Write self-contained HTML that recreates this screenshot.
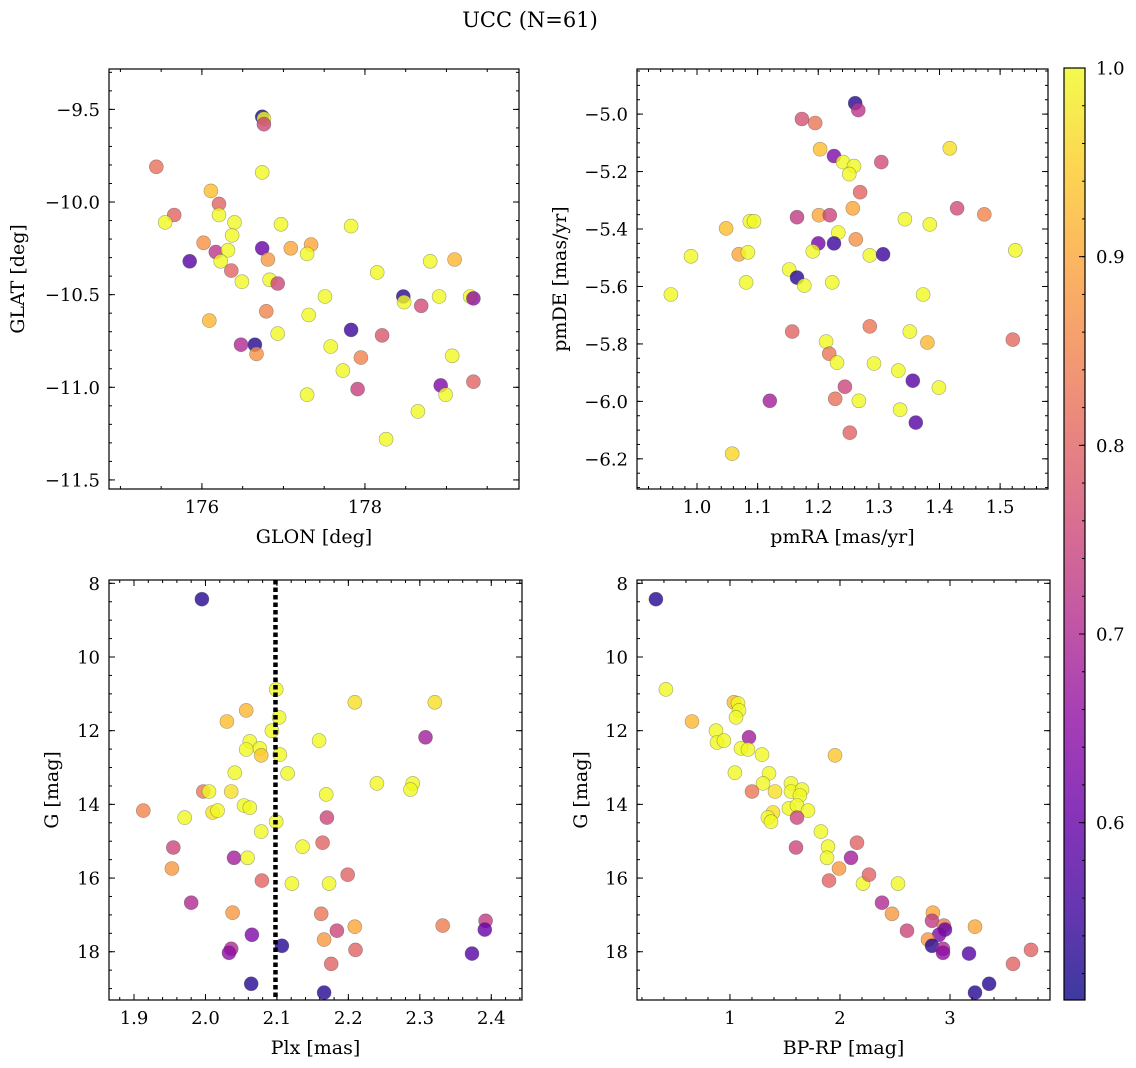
<!DOCTYPE html>
<html><head><meta charset="utf-8">
<style>
html,body{margin:0;padding:0;background:#fff;}
svg{display:block;font-family:"DejaVu Serif","Liberation Serif",serif;}
</style></head>
<body>
<svg id="fig" width="1136" height="1068" viewBox="0 0 1136 1068" xmlns="http://www.w3.org/2000/svg">
<text x="530" y="27" font-size="21" text-anchor="middle">UCC (N=61)</text>
</svg>
<script>
// ---------- Panel 1: GLON vs GLAT ----------
const p1Glon = [176.74,176.76,176.76,175.44,176.74,176.11,176.21,175.66,176.21,175.55,176.40,176.97,177.83,176.37,176.02,176.74,177.09,177.34,176.17,176.32,177.29,175.85,176.23,176.81,176.36,176.49,176.83,176.93,178.15,178.80,179.10,177.51,178.47,178.48,178.91,179.29,179.33,178.69,176.79,177.31,176.09,177.83,176.93,178.21,176.48,176.65,176.67,177.58,177.95,177.73,179.07,178.93,178.99,179.33,177.91,177.29,178.65,178.26];
const p1Glat = [-9.54,-9.55,-9.58,-9.81,-9.84,-9.94,-10.01,-10.07,-10.07,-10.11,-10.11,-10.12,-10.13,-10.18,-10.22,-10.25,-10.25,-10.23,-10.27,-10.26,-10.28,-10.32,-10.32,-10.31,-10.37,-10.43,-10.42,-10.44,-10.38,-10.32,-10.31,-10.51,-10.51,-10.54,-10.51,-10.51,-10.52,-10.56,-10.59,-10.61,-10.64,-10.69,-10.71,-10.72,-10.77,-10.77,-10.82,-10.78,-10.84,-10.91,-10.83,-10.99,-11.04,-10.97,-11.01,-11.04,-11.13,-11.28];
const p1Prob = [0.52,1.0,0.75,0.82,1.0,0.93,0.8,0.8,1.0,1.0,1.0,1.0,1.0,1.0,0.87,0.6,0.9,0.9,0.72,1.0,1.0,0.58,1.0,0.88,0.8,1.0,1.0,0.75,1.0,1.0,0.92,1.0,0.53,1.0,1.0,1.0,0.65,0.76,0.85,1.0,0.92,0.55,1.0,0.78,0.7,0.53,0.87,1.0,0.85,1.0,1.0,0.63,1.0,0.8,0.74,1.0,1.0,1.0];
// ---------- Panel 2: pmRA vs pmDE ----------
const p2PmRA = [1.261,1.266,1.173,1.195,1.203,1.226,1.241,1.259,1.251,1.304,1.417,1.269,1.257,1.429,1.474,1.165,1.201,1.219,1.343,1.384,1.048,1.087,1.094,1.233,1.200,1.226,1.262,1.191,1.285,1.307,0.990,1.069,1.084,1.525,1.152,1.165,1.177,1.223,1.081,0.957,1.373,1.157,1.285,1.351,1.380,1.521,1.213,1.218,1.231,1.292,1.332,1.356,1.399,1.244,1.120,1.228,1.267,1.335,1.361,1.252,1.058];
const p2PmDE = [-4.962,-4.986,-5.017,-5.031,-5.122,-5.146,-5.167,-5.181,-5.209,-5.167,-5.119,-5.272,-5.328,-5.328,-5.349,-5.359,-5.352,-5.352,-5.366,-5.384,-5.398,-5.373,-5.373,-5.412,-5.450,-5.450,-5.436,-5.478,-5.492,-5.488,-5.495,-5.488,-5.481,-5.474,-5.541,-5.569,-5.597,-5.586,-5.586,-5.628,-5.628,-5.757,-5.739,-5.757,-5.795,-5.785,-5.792,-5.834,-5.865,-5.868,-5.893,-5.928,-5.952,-5.949,-5.998,-5.991,-5.998,-6.029,-6.074,-6.109,-6.182];
const p2Prob = [0.53,0.72,0.77,0.83,0.93,0.63,1.0,1.0,1.0,0.76,0.97,0.8,0.9,0.76,0.85,0.73,0.9,0.75,1.0,1.0,0.93,1.0,1.0,1.0,0.62,0.55,0.87,1.0,1.0,0.55,1.0,0.9,1.0,1.0,1.0,0.53,1.0,1.0,1.0,1.0,1.0,0.8,0.83,1.0,0.92,0.81,1.0,0.83,1.0,1.0,1.0,0.58,1.0,0.75,0.68,0.82,1.0,1.0,0.58,0.8,0.96];
// ---------- Panel 3: Plx vs G ----------
const p3Plx = [1.995,2.099,2.209,2.321,2.057,2.030,2.103,2.093,2.308,2.159,2.062,2.076,2.057,2.078,2.104,2.041,2.115,2.240,2.290,2.287,1.997,2.005,2.036,2.169,1.913,2.010,2.017,2.054,2.062,1.971,2.099,2.170,2.078,2.164,2.136,1.955,2.040,2.059,1.953,2.079,2.121,2.173,2.199,1.980,2.038,2.162,2.209,2.332,2.392,2.391,2.184,2.065,2.166,2.036,2.033,2.107,2.210,2.373,2.176,2.064,2.166];
const p3G = [8.43,10.88,11.23,11.23,11.45,11.75,11.64,12.0,12.18,12.27,12.29,12.48,12.51,12.67,12.65,13.14,13.16,13.43,13.43,13.60,13.65,13.65,13.65,13.73,14.17,14.22,14.17,14.03,14.09,14.36,14.47,14.36,14.74,15.04,15.15,15.17,15.45,15.45,15.74,16.07,16.15,16.15,15.91,16.67,16.94,16.97,17.32,17.29,17.16,17.40,17.43,17.54,17.67,17.92,18.03,17.84,17.95,18.05,18.33,18.87,19.11];
const p3Prob = [0.53,1.0,0.97,0.97,0.92,0.93,1.0,1.0,0.68,1.0,1.0,1.0,1.0,0.94,1.0,1.0,1.0,1.0,1.0,1.0,0.83,1.0,0.97,1.0,0.85,0.97,1.0,1.0,1.0,1.0,1.0,0.75,1.0,0.8,1.0,0.75,0.68,1.0,0.88,0.8,1.0,1.0,0.8,0.7,0.88,0.83,0.9,0.84,0.73,0.6,0.75,0.63,0.88,0.7,0.65,0.53,0.8,0.58,0.8,0.53,0.53];
const plxMedian = 2.098;
// ---------- Panel 4: BP-RP vs G ----------
const p4BpRp = [0.327,0.418,0.655,1.036,1.073,1.082,1.055,0.873,0.882,0.945,1.173,1.100,1.164,1.291,1.955,1.045,1.355,1.300,1.200,1.409,1.555,1.555,1.655,1.636,1.536,1.609,1.709,1.391,1.345,1.373,1.609,1.827,2.155,1.891,1.600,2.100,1.882,1.991,1.900,2.209,2.264,2.527,2.382,2.473,2.609,2.845,2.836,2.945,2.955,2.900,2.800,2.836,2.936,2.936,3.227,3.173,3.736,3.573,3.355,3.227];
const p4G = [8.43,10.88,11.75,11.23,11.26,11.45,11.64,12.0,12.32,12.27,12.18,12.48,12.51,12.65,12.67,13.14,13.16,13.43,13.65,13.65,13.43,13.65,13.60,13.76,14.11,14.03,14.17,14.22,14.36,14.47,14.36,14.74,15.04,15.15,15.17,15.45,15.45,15.74,16.07,16.15,15.91,16.15,16.67,16.97,17.43,16.94,17.16,17.29,17.40,17.54,17.67,17.84,17.92,18.03,17.32,18.05,17.95,18.33,18.87,19.11];
const p4Prob = [0.53,1.0,0.92,0.93,1.0,1.0,1.0,1.0,1.0,1.0,0.68,1.0,1.0,1.0,0.94,1.0,1.0,1.0,0.83,0.97,1.0,1.0,1.0,1.0,1.0,1.0,1.0,0.97,1.0,1.0,0.75,1.0,0.8,1.0,0.75,0.68,1.0,0.88,0.8,1.0,0.8,1.0,0.7,0.88,0.75,0.9,0.73,0.84,0.6,0.63,0.88,0.53,0.7,0.65,0.9,0.58,0.8,0.8,0.53,0.53];
// colorbar
const cbTicks = [0.6,0.7,0.8,0.9,1.0];
const cbMin = 0.506, cbMax = 1.0;

const NS = "http://www.w3.org/2000/svg";
const svg = document.getElementById('fig');
function mk(tag, attrs, parent){ const e=document.createElementNS(NS,tag); for(const k in attrs) e.setAttribute(k,attrs[k]); (parent||svg).appendChild(e); return e; }

const plasma = [[13,8,135],[65,4,157],[106,0,168],[143,13,164],[177,42,144],[204,71,120],[225,100,98],[242,132,75],[252,166,54],[252,206,37],[240,249,33]];
function cmap(t){ t=Math.max(0,Math.min(1,t)); const s=t*10; const i=Math.min(9,Math.floor(s)); const f=s-i; const a=plasma[i], b=plasma[i+1];
  return 'rgb('+a.map((v,k)=>Math.round(v+(b[k]-v)*f)).join(',')+')'; }
function probColor(p){ return cmap((p-cbMin)/(cbMax-cbMin)); }

function fmt(v,d){ let s=v.toFixed(d); if(v<0) s='\u2212'+s.slice(1); return s; }

function panel(cfg){
  const {name,L,R,T,B,xd,yd,xMaj,xMin,yMaj,yMin,xDec,yDec,xlab,ylab,ylabX} = cfg;
  const g = mk('g',{});
  
  
  const sx = v => L + (v-xd[0])/(xd[1]-xd[0])*(R-L);
  const sy = v => T + (v-yd[0])/(yd[1]-yd[0])*(B-T);
  const clip = mk('clipPath',{id:'clip-'+name},g); mk('rect',{x:L,y:T,width:R-L,height:B-T},clip);
  const pts = mk('g',{'clip-path':'url(#clip-'+name+')'},g);
  const xs=cfg.xs, ys=cfg.ys, ps=cfg.ps;
  for(let i=0;i<xs.length;i++){
    const c = mk('circle',{cx:sx(xs[i]).toFixed(1),cy:sy(ys[i]).toFixed(1),r:7,fill:probColor(ps[i]),'fill-opacity':0.8,stroke:'rgba(60,60,60,0.45)','stroke-width':0.6},pts);
    
    
  }
  cfg.after && cfg.after(pts,sx,sy);
  const fr = mk('rect',{x:L,y:T,width:R-L,height:B-T,fill:'none',stroke:'#000','stroke-width':1.2},g);
  
  
  const tg = mk('g',{stroke:'#000','stroke-width':1},g);
  const eps=1e-9;
  function ticks(lo,hi,step,len,isX){
    const start=Math.ceil((lo-eps)/step)*step;
    for(let v=start; v<=hi+eps; v+=step){
      if(isX){ const x=sx(v); mk('line',{x1:x,x2:x,y1:B,y2:B-len},tg); mk('line',{x1:x,x2:x,y1:T,y2:T+len},tg); }
      else { const y=sy(v); mk('line',{x1:L,x2:L+len,y1:y,y2:y},tg); mk('line',{x1:R,x2:R-len,y1:y,y2:y},tg); }
    }
  }
  const xlo=Math.min(...xd), xhi=Math.max(...xd), ylo=Math.min(...yd), yhi=Math.max(...yd);
  ticks(xlo,xhi,xMin,3,true); ticks(xlo,xhi,xMaj,6,true);
  ticks(ylo,yhi,yMin,3,false); ticks(ylo,yhi,yMaj,6,false);
  const xl = mk('g',{'font-size':18,'text-anchor':'middle'},g);
  
  
  for(let v=Math.ceil((xlo-eps)/xMaj)*xMaj; v<=xhi+eps; v+=xMaj){
    const t=mk('text',{x:sx(v),y:B+24},xl); t.textContent=fmt(v,xDec);
  }
  const yl = mk('g',{'font-size':18,'text-anchor':'end'},g);
  
  
  for(let v=Math.ceil((ylo-eps)/yMaj)*yMaj; v<=yhi+eps; v+=yMaj){
    const t=mk('text',{x:L-9,y:sy(v)+6.5},yl); t.textContent=fmt(v,yDec);
  }
  const xt=mk('text',{x:(L+R)/2,y:B+54,'font-size':19,'text-anchor':'middle'},g); xt.textContent=xlab;
  
  
  const cy=(T+B)/2;
  const yt=mk('text',{x:ylabX,y:cy,'font-size':19,'text-anchor':'middle',transform:'rotate(-90 '+ylabX+' '+cy+')'},g); yt.textContent=ylab;
  
  
}

panel({name:'glon-glat-panel',L:109,R:519,T:69,B:489,xd:[174.86,179.89],yd:[-9.282,-11.549],xMaj:2,xMin:0.5,yMaj:0.5,yMin:0.1,xDec:0,yDec:1,xlab:'GLON [deg]',ylab:'GLAT [deg]',ylabX:24,xs:p1Glon,ys:p1Glat,ps:p1Prob});
panel({name:'pm-panel',L:637,R:1048,T:69,B:489,xd:[0.901,1.579],yd:[-4.843,-6.305],xMaj:0.1,xMin:0.02,yMaj:0.2,yMin:0.05,xDec:1,yDec:1,xlab:'pmRA [mas/yr]',ylab:'pmDE [mas/yr]',ylabX:566,xs:p2PmRA,ys:p2PmDE,ps:p2Prob});
panel({name:'plx-g-panel',L:109,R:522,T:580,B:1000,xd:[1.865,2.443],yd:[7.91,19.31],xMaj:0.1,xMin:0.02,yMaj:2,yMin:0.5,xDec:1,yDec:0,xlab:'Plx [mas]',ylab:'G [mag]',ylabX:58,xs:p3Plx,ys:p3G,ps:p3Prob,
  after:(g,sx,sy)=>{ const x=sx(plxMedian); const l=mk('line',{x1:x,x2:x,y1:580,y2:1000,stroke:'#000','stroke-width':4.5,'stroke-dasharray':'4.5 3'},g);
    
     }});
panel({name:'cmd-panel',L:637,R:1050,T:580,B:1000,xd:[0.155,3.909],yd:[7.91,19.31],xMaj:1,xMin:0.2,yMaj:2,yMin:0.5,xDec:0,yDec:0,xlab:'BP-RP [mag]',ylab:'G [mag]',ylabX:587,xs:p4BpRp,ys:p4G,ps:p4Prob});

(function(){
  const L=1064,R=1085,T=68,B=1000;
  const defs=mk('defs',{});
  const gr=mk('linearGradient',{id:'cbg',x1:0,y1:1,x2:0,y2:0},defs);
  for(let i=0;i<=20;i++){ mk('stop',{offset:i/20,'stop-color':cmap(i/20),'stop-opacity':0.8},gr); }
  const g=mk('g',{});
  
  
  mk('rect',{x:L,y:T,width:R-L,height:B-T,fill:'url(#cbg)',stroke:'#000','stroke-width':1.2},g);
  const sy=v=>B-(v-cbMin)/(cbMax-cbMin)*(B-T);
  for(let v=0.52; v<=1.0001; v+=0.02){ mk('line',{x1:R,x2:R-3,y1:sy(v),y2:sy(v),stroke:'#000'},g); }
  cbTicks.forEach(v=>{ mk('line',{x1:R,x2:R-6,y1:sy(v),y2:sy(v),stroke:'#000'},g);
    const t=mk('text',{x:R+11,y:sy(v)+6.5,'font-size':18},g); t.textContent=v.toFixed(1);
    
     });
})();
</script>
</body></html>
